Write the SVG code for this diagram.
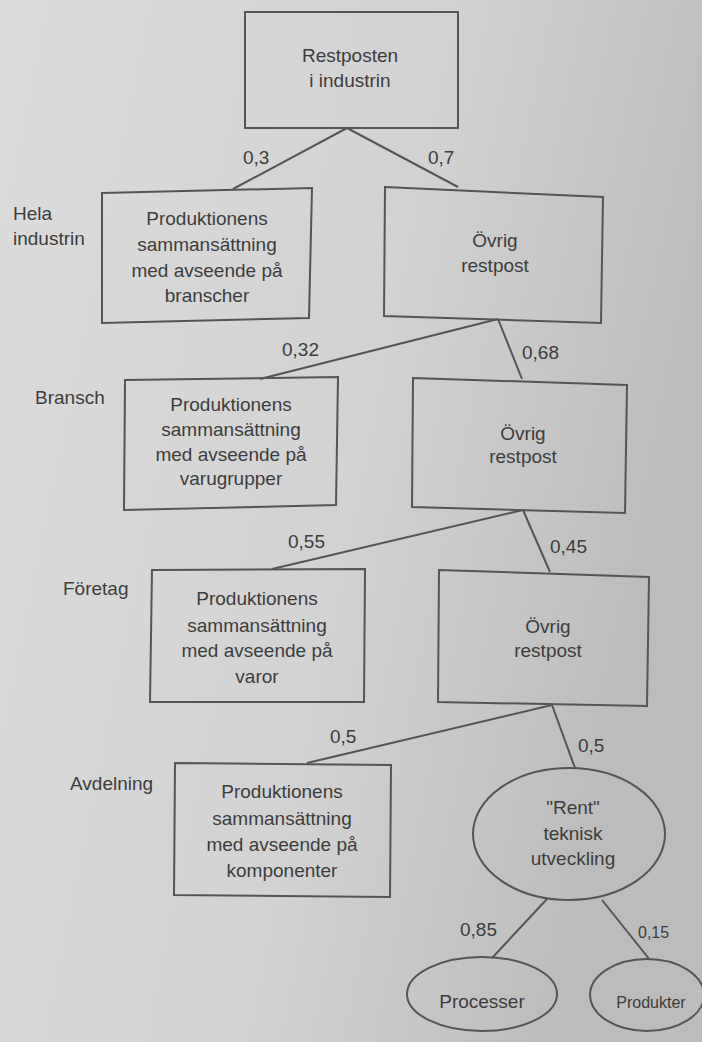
<svg xmlns="http://www.w3.org/2000/svg" width="702" height="1042" viewBox="0 0 702 1042">
<style>
.bg{fill:url(#paper)}
.shape{fill:none;stroke:#555;stroke-width:2}
.conn{stroke:#555;stroke-width:2;fill:none}
text{font-family:"Liberation Sans",Arial,sans-serif;font-size:19px;fill:#3d3d3d}
.c{text-anchor:middle}
.sm{font-size:16px}
</style>
<defs>
<linearGradient id="paper" x1="0" y1="0" x2="1" y2="0.3">
<stop offset="0" stop-color="#dcdcdc"/>
<stop offset="0.6" stop-color="#d2d2d2"/>
<stop offset="1" stop-color="#bcbcbc"/>
</linearGradient>
</defs>
<rect class="bg" x="0" y="0" width="702" height="1042"/>
<g id="connectors">
<line class="conn" x1="347" y1="128" x2="233" y2="189"/>
<line class="conn" x1="347" y1="128" x2="458" y2="187"/>
<line class="conn" x1="498" y1="319" x2="260" y2="379"/>
<line class="conn" x1="498" y1="319" x2="522" y2="379"/>
<line class="conn" x1="523" y1="510" x2="272" y2="569"/>
<line class="conn" x1="523" y1="510" x2="550" y2="572"/>
<line class="conn" x1="552" y1="705" x2="307" y2="763"/>
<line class="conn" x1="552" y1="705" x2="575" y2="768"/>
<line class="conn" x1="547" y1="899" x2="492" y2="958"/>
<line class="conn" x1="602" y1="900" x2="650" y2="960"/>
<text x="243" y="164">0,3</text>
<text x="428" y="164">0,7</text>
<text x="282" y="356">0,32</text>
<text x="522" y="359">0,68</text>
<text x="288" y="548">0,55</text>
<text x="550" y="553">0,45</text>
<text x="330" y="743">0,5</text>
<text x="578" y="752">0,5</text>
<text x="460" y="936">0,85</text>
<text x="638" y="938" class="sm">0,15</text>
</g>
<g id="levels">
<text x="13" y="220">Hela</text>
<text x="13" y="245">industrin</text>
<text x="35" y="404">Bransch</text>
<text x="63" y="595">Företag</text>
<text x="70" y="790">Avdelning</text>
</g>
<g id="n-restposten">
<rect class="shape" x="245" y="12" width="213" height="116"/>
<text class="c" x="350" y="62">Restposten</text>
<text class="c" x="350" y="87">i industrin</text>
</g>
<g id="n-branscher">
<polygon class="shape" points="102,193 312,188 309,318 102,323"/>
<text class="c" x="207" y="225">Produktionens</text>
<text class="c" x="207" y="251">sammansättning</text>
<text class="c" x="207" y="277">med avseende på</text>
<text class="c" x="207" y="302">branscher</text>
</g>
<g id="n-ovrig1">
<polygon class="shape" points="385,187 603,197 601,323 384,316"/>
<text class="c" x="495" y="247">Övrig</text>
<text class="c" x="495" y="272">restpost</text>
</g>
<g id="n-varugrupper">
<polygon class="shape" points="125,380 338,377 336,505 124,510"/>
<text class="c" x="231" y="411">Produktionens</text>
<text class="c" x="231" y="436">sammansättning</text>
<text class="c" x="231" y="461">med avseende på</text>
<text class="c" x="231" y="485">varugrupper</text>
</g>
<g id="n-ovrig2">
<polygon class="shape" points="413,378 627,385 625,513 412,507"/>
<text class="c" x="523" y="440">Övrig</text>
<text class="c" x="523" y="463">restpost</text>
</g>
<g id="n-varor">
<polygon class="shape" points="152,570 365,569 364,702 150,702"/>
<text class="c" x="257" y="605">Produktionens</text>
<text class="c" x="257" y="632">sammansättning</text>
<text class="c" x="257" y="657">med avseende på</text>
<text class="c" x="257" y="683">varor</text>
</g>
<g id="n-ovrig3">
<polygon class="shape" points="439,570 649,577 647,706 438,702"/>
<text class="c" x="548" y="633">Övrig</text>
<text class="c" x="548" y="657">restpost</text>
</g>
<g id="n-komponenter">
<polygon class="shape" points="175,763 391,765 390,897 174,895"/>
<text class="c" x="282" y="798">Produktionens</text>
<text class="c" x="282" y="825">sammansättning</text>
<text class="c" x="282" y="851">med avseende på</text>
<text class="c" x="282" y="877">komponenter</text>
</g>
<g id="n-rent">
<ellipse class="shape" cx="569" cy="834" rx="96" ry="66"/>
<text class="c" x="573" y="814">"Rent"</text>
<text class="c" x="573" y="840">teknisk</text>
<text class="c" x="573" y="865">utveckling</text>
</g>
<g id="n-processer">
<ellipse class="shape" cx="482" cy="994" rx="75" ry="37"/>
<text class="c" x="482" y="1008">Processer</text>
</g>
<g id="n-produkter">
<ellipse class="shape" cx="647" cy="995" rx="57" ry="36"/>
<text class="c sm" x="651" y="1008">Produkter</text>
</g>
</svg>
